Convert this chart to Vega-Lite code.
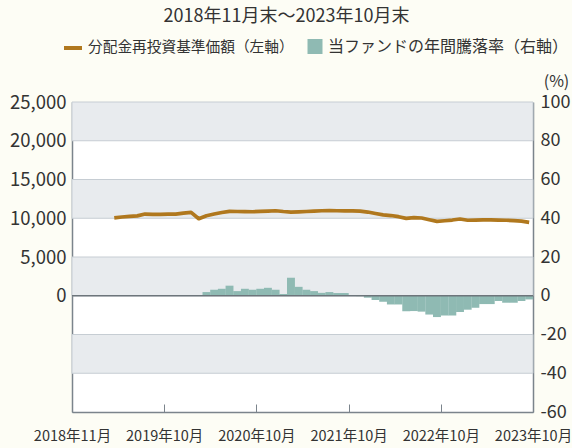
{
  "$schema": "https://vega.github.io/schema/vega-lite/v6.json",
  "width": 461,
  "height": 310,
  "autosize": {"type": "none"},
  "padding": {"left": 72, "top": 102, "right": 39, "bottom": 36},
  "background": "#fdfdf5",
  "title": {
    "text": "2018年11月末～2023年10月末",
    "fontSize": 18,
    "font": "Noto Sans CJK JP",
    "fontWeight": "normal",
    "color": "#333333",
    "anchor": "middle",
    "dx": -16,
    "offset": 11
  },
  "config": {
    "view": {"fill": "#ffffff", "stroke": null},
    "font": "Noto Sans CJK JP",
    "axis": {
      "labelFont": "Noto Sans CJK JP",
      "labelColor": "#333333",
      "domainColor": "#7b848c",
      "domainWidth": 1.5,
      "grid": false,
      "ticks": false,
      "labelOverlap": false,
      "zindex": 1
    },
    "legend": {
      "padding": 0,
      "offset": 0,
      "labelFont": "Noto Sans CJK JP",
      "labelFontSize": 15,
      "labelColor": "#333333",
      "labelLimit": 400
    }
  },
  "datasets": {
    "bands": [
      {"lo": 80, "hi": 100},
      {"lo": 40, "hi": 60},
      {"lo": 0, "hi": 20},
      {"lo": -40, "hi": -20}
    ],
    "nav": [
      {"t": 6, "v": 10050}, {"t": 7, "v": 10160}, {"t": 8, "v": 10230}, {"t": 9, "v": 10310},
      {"t": 10, "v": 10540}, {"t": 11, "v": 10500}, {"t": 12, "v": 10500}, {"t": 13, "v": 10520},
      {"t": 14, "v": 10540}, {"t": 15, "v": 10670}, {"t": 16, "v": 10760}, {"t": 17, "v": 9940},
      {"t": 18, "v": 10330}, {"t": 19, "v": 10540}, {"t": 20, "v": 10740}, {"t": 21, "v": 10890},
      {"t": 22, "v": 10870}, {"t": 23, "v": 10850}, {"t": 24, "v": 10840}, {"t": 25, "v": 10890},
      {"t": 26, "v": 10930}, {"t": 27, "v": 10970}, {"t": 28, "v": 10870}, {"t": 29, "v": 10800},
      {"t": 30, "v": 10830}, {"t": 31, "v": 10870}, {"t": 32, "v": 10930}, {"t": 33, "v": 10970},
      {"t": 34, "v": 10980}, {"t": 35, "v": 10970}, {"t": 36, "v": 10960}, {"t": 37, "v": 10950},
      {"t": 38, "v": 10930}, {"t": 39, "v": 10800}, {"t": 40, "v": 10610}, {"t": 41, "v": 10440},
      {"t": 42, "v": 10350}, {"t": 43, "v": 10200}, {"t": 44, "v": 9990}, {"t": 45, "v": 10080},
      {"t": 46, "v": 10030}, {"t": 47, "v": 9810}, {"t": 48, "v": 9600}, {"t": 49, "v": 9680},
      {"t": 50, "v": 9770}, {"t": 51, "v": 9900}, {"t": 52, "v": 9740}, {"t": 53, "v": 9770},
      {"t": 54, "v": 9800}, {"t": 55, "v": 9800}, {"t": 56, "v": 9770}, {"t": 57, "v": 9740},
      {"t": 58, "v": 9690}, {"t": 59, "v": 9620}, {"t": 60, "v": 9470}
    ],
    "ret": [
      {"t": 18, "r": 1.9}, {"t": 19, "r": 3.1}, {"t": 20, "r": 3.6}, {"t": 21, "r": 5.2},
      {"t": 22, "r": 2.4}, {"t": 23, "r": 3.6}, {"t": 24, "r": 3.1}, {"t": 25, "r": 3.6},
      {"t": 26, "r": 4.1}, {"t": 27, "r": 3.1}, {"t": 28, "r": 0.9}, {"t": 29, "r": 9.3},
      {"t": 30, "r": 4.6}, {"t": 31, "r": 3.1}, {"t": 32, "r": 2.4}, {"t": 33, "r": 1.5},
      {"t": 34, "r": 1.9}, {"t": 35, "r": 1.4}, {"t": 36, "r": 1.4}, {"t": 37, "r": 0.3},
      {"t": 38, "r": -0.2}, {"t": 39, "r": -1.0}, {"t": 40, "r": -2.2}, {"t": 41, "r": -3.1},
      {"t": 42, "r": -4.5}, {"t": 43, "r": -4.5}, {"t": 44, "r": -8.0}, {"t": 45, "r": -7.9},
      {"t": 46, "r": -8.2}, {"t": 47, "r": -9.7}, {"t": 48, "r": -11.0}, {"t": 49, "r": -10.2},
      {"t": 50, "r": -10.2}, {"t": 51, "r": -8.4}, {"t": 52, "r": -7.2}, {"t": 53, "r": -6.2},
      {"t": 54, "r": -4.3}, {"t": 55, "r": -4.3}, {"t": 56, "r": -2.7}, {"t": 57, "r": -3.6},
      {"t": 58, "r": -3.6}, {"t": 59, "r": -2.7}, {"t": 60, "r": -1.9}
    ]
  },
  "layer": [
    {
      "layer": [
        {
          "data": {"name": "bands"},
          "mark": {"type": "rect", "fill": "#e8ebee", "stroke": "#c6cdd3", "strokeWidth": 1},
          "encoding": {
            "x": {"datum": 0, "type": "quantitative"},
            "x2": {"datum": 60},
            "y": {
              "field": "lo",
              "type": "quantitative",
              "scale": {"domain": [-60, 100], "nice": false, "zero": false},
              "axis": {
                "orient": "right",
                "values": [-60, -40, -20, 0, 20, 40, 60, 80, 100],
                "tickCount": 9,
                "labelExpr": "datum.value + ''",
                "labelFontSize": 18,
                "labelPadding": 7,
                "labelOverlap": false,
                "title": "(%)",
                "titleAngle": 0,
                "titleX": 23,
                "titleY": -21,
                "titleAlign": "center",
                "titleBaseline": "middle",
                "titleFontSize": 16,
                "titleFontWeight": "normal",
                "titleColor": "#333333",
                "titleFont": "Noto Sans CJK JP"
              }
            },
            "y2": {"field": "hi"}
          }
        },
        {
          "data": {"name": "ret"},
          "mark": {"type": "bar", "width": 7.9, "xOffset": -3.84},
          "encoding": {
            "x": {
              "field": "t",
              "type": "quantitative",
              "scale": {"domain": [0, 60], "nice": false, "zero": false, "padding": 0},
              "axis": {
                "title": null,
                "values": [0, 12, 24, 36, 48, 60],
                "labelExpr": "datum.value == 0 ? '2018年11月' : (2018 + datum.value / 12) + '年10月'",
                "ticks": true,
                "tickSize": -8,
                "tickColor": "#7b848c",
                "tickWidth": 1,
                "labelFontSize": 14.5,
                "labelPadding": 25,
                "labelFlush": false,
                "labelOverlap": false,
                "labelBound": false
              }
            },
            "y": {
              "field": "r",
              "type": "quantitative",
              "scale": {"domain": [-60, 100], "nice": false, "zero": false}
            },
            "fill": {
              "datum": "当ファンドの年間騰落率（右軸）",
              "scale": {"range": ["#8fbab3"]},
              "legend": {
                "title": null,
                "orient": "none",
                "legendX": 235,
                "legendY": -63.5,
                "symbolType": "square",
                "symbolSize": 225,
                "symbolStrokeWidth": 0,
                "labelOffset": 5,
                "labelFontSize": 16
              }
            }
          }
        },
        {
          "data": {"values": [{}]},
          "mark": {"type": "rule", "stroke": "#6d757b", "strokeWidth": 1.5},
          "encoding": {"y": {"datum": 0, "type": "quantitative"}}
        }
      ]
    },
    {
      "data": {"name": "nav"},
      "mark": {"type": "line", "strokeWidth": 3.7, "xOffset": -3.84, "strokeJoin": "round", "strokeCap": "butt"},
      "encoding": {
        "x": {"field": "t", "type": "quantitative"},
        "y": {
          "field": "v",
          "type": "quantitative",
          "scale": {"domain": [-15000, 25000], "nice": false, "zero": false},
          "axis": {
            "orient": "left",
            "values": [0, 5000, 10000, 15000, 20000, 25000],
            "format": ",d",
            "labelFontSize": 18.5,
            "labelPadding": 6,
            "labelOverlap": false,
            "title": null
          }
        },
        "stroke": {
          "datum": "分配金再投資基準価額（左軸）",
          "scale": {"range": ["#b0781e"]},
          "legend": {
            "title": null,
            "orient": "none",
            "legendX": -10,
            "legendY": -65,
            "symbolType": "stroke",
            "symbolSize": 324,
            "symbolStrokeWidth": 4,
            "labelOffset": 4,
            "labelFontSize": 14.7
          }
        }
      }
    }
  ],
  "resolve": {"scale": {"y": "independent"}}
}
